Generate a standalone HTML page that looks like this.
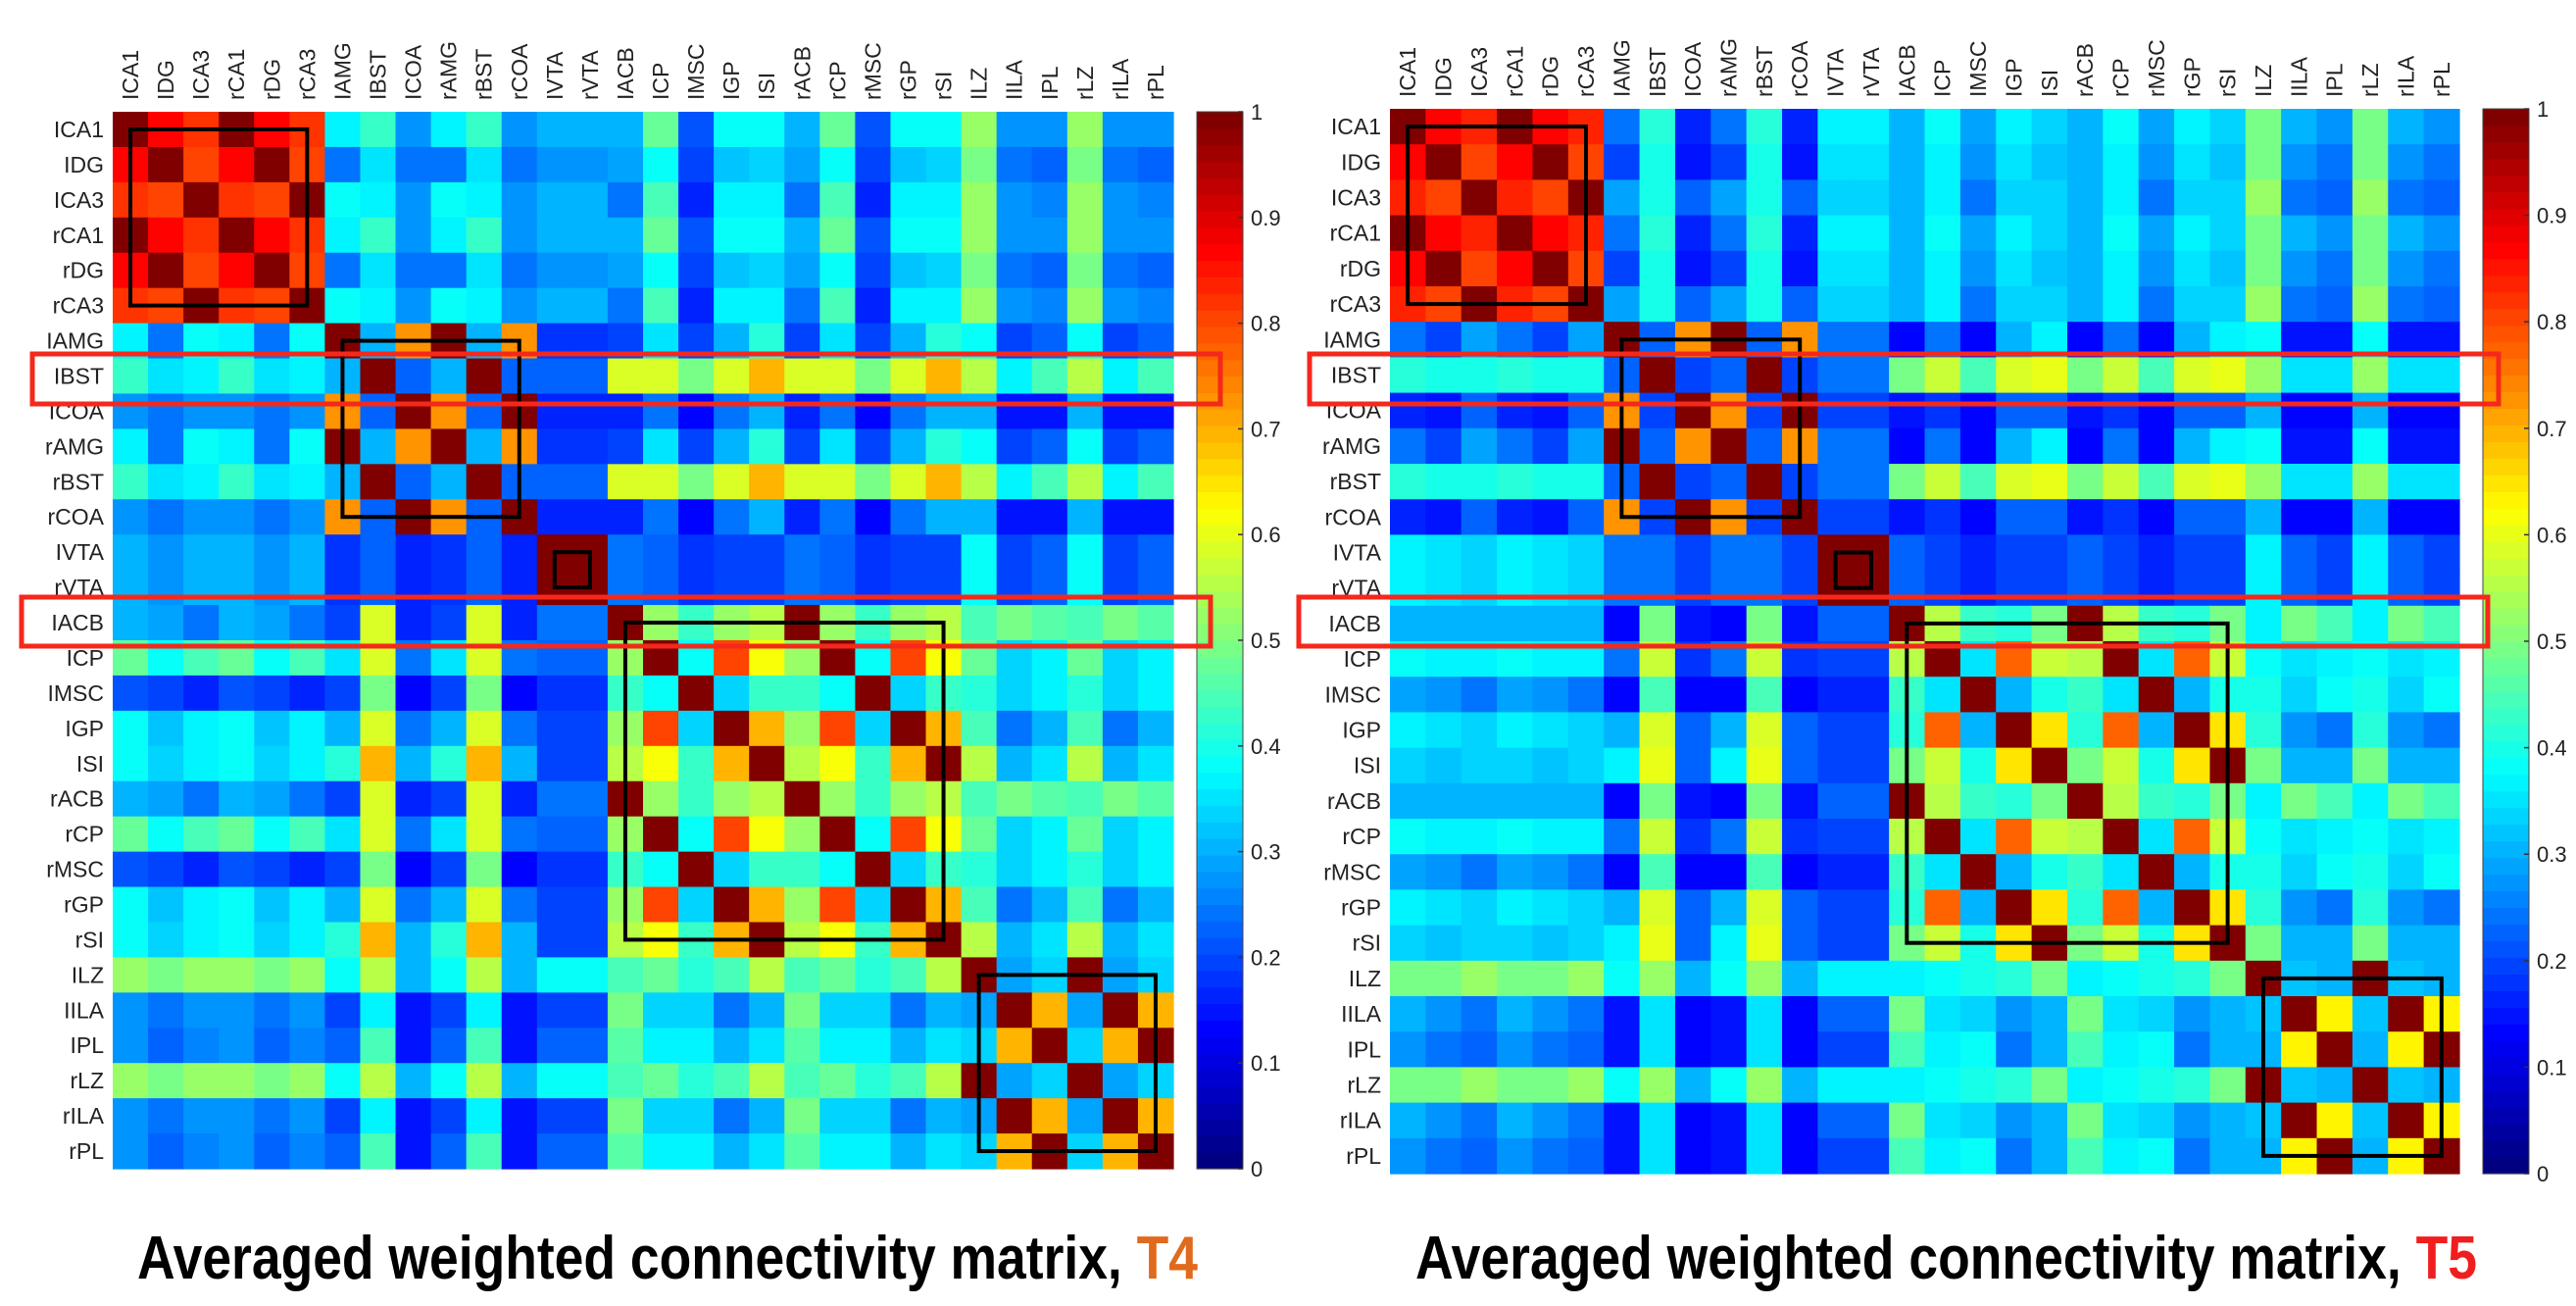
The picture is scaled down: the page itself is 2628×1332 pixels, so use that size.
<!DOCTYPE html>
<html><head><meta charset="utf-8">
<style>
html,body{margin:0;padding:0;background:#fff;}
svg{display:block;}
</style></head>
<body>
<svg id="fig" width="2628" height="1332" viewBox="0 0 2628 1332" xmlns="http://www.w3.org/2000/svg" font-family="Liberation Sans, Arial, sans-serif"></svg>
<script>
const labels = ["lCA1","lDG","lCA3","rCA1","rDG","rCA3","lAMG","lBST","lCOA","rAMG","rBST","rCOA","lVTA","rVTA","lACB","lCP","lMSC","lGP","lSI","rACB","rCP","rMSC","rGP","rSI","lLZ","lILA","lPL","rLZ","rILA","rPL"];
const shown = ["ICA1","IDG","ICA3","rCA1","rDG","rCA3","IAMG","IBST","ICOA","rAMG","rBST","rCOA","IVTA","rVTA","IACB","ICP","IMSC","IGP","ISI","rACB","rCP","rMSC","rGP","rSI","ILZ","IILA","IPL","rLZ","rILA","rPL"];
const regionIndex = [0,1,2,0,1,2,3,4,5,3,4,5,6,6,7,8,9,10,11,7,8,9,10,11,12,13,14,12,13,14];
const t4Lower = [
[1],
[.87,1],
[.82,.80,1],
[.36,.25,.38,1],
[.43,.35,.36,.30,1],
[.27,.24,.28,.72,.22,1],
[.31,.28,.31,.18,.22,.17,1],
[.31,.29,.25,.20,.59,.16,.24,1],
[.48,.38,.44,.35,.58,.24,.22,.53,1],
[.21,.19,.17,.19,.50,.13,.18,.43,.38,1],
[.38,.32,.36,.31,.59,.24,.20,.53,.80,.33,1],
[.38,.33,.36,.42,.70,.30,.20,.56,.62,.43,.70,1],
[.53,.50,.53,.38,.55,.30,.38,.45,.48,.42,.45,.56,1],
[.27,.25,.27,.20,.37,.15,.19,.50,.33,.33,.25,.30,.29,1],
[.27,.23,.26,.22,.44,.15,.22,.46,.37,.36,.30,.35,.34,.70,1]
];
const t5Lower = [
[1],
[.87,1],
[.84,.80,1],
[.25,.20,.29,1],
[.42,.40,.40,.23,1],
[.16,.15,.22,.72,.20,1],
[.36,.35,.34,.24,.25,.19,1],
[.31,.31,.30,.13,.50,.15,.22,1],
[.38,.37,.37,.24,.57,.18,.20,.55,1],
[.29,.28,.25,.13,.45,.14,.17,.43,.35,1],
[.37,.35,.34,.30,.58,.22,.20,.42,.77,.31,1],
[.34,.32,.33,.37,.60,.22,.20,.50,.57,.40,.65,1],
[.50,.50,.52,.38,.52,.30,.37,.36,.38,.40,.42,.50,1],
[.30,.28,.24,.15,.35,.13,.22,.50,.35,.34,.27,.30,.32,1],
[.27,.25,.23,.15,.35,.13,.20,.45,.36,.38,.25,.30,.30,.63,1]
];
const cbTicks = [0,0.1,0.2,0.3,0.4,0.5,0.6,0.7,0.8,0.9,1];
const cbTickLabels = ["0","0.1","0.2","0.3","0.4","0.5","0.6","0.7","0.8","0.9","1"];
const boxes = [[0,5],[6,11],[12,13],[14,23],[24,29]];
const highlightRows = [7,14];

const NS="http://www.w3.org/2000/svg";
const svg=document.getElementById('fig');
function mk(tag,attrs,parent){const e=document.createElementNS(NS,tag);for(const k in attrs)e.setAttribute(k,attrs[k]);(parent||svg).appendChild(e);return e;}
function clamp(v){return Math.max(0,Math.min(1,v));}
function jet(v){
  let idx=Math.floor(clamp(v)*63.999); const x=idx/63;
  const r=clamp(1.5-Math.abs(4*x-3)), g=clamp(1.5-Math.abs(4*x-2)), b=clamp(1.5-Math.abs(4*x-1));
  return `rgb(${Math.round(r*255)},${Math.round(g*255)},${Math.round(b*255)})`;
}
function val(lower,i,j){
  const a=regionIndex[i], b=regionIndex[j];
  if(a===b) return 1;
  return a>b?lower[a][b]:lower[b][a];
}

function drawChart(cfg){
  const g=mk('g',{});
  
  
  const n=labels.length, cw=cfg.w/n, ch=cfg.h/n;
  const xs=j=>cfg.x+j*cw, ys=i=>cfg.y+i*ch;
  const cells=mk('g',{},g);
  
  
  for(let i=0;i<n;i++)for(let j=0;j<n;j++){
    const r=mk('rect',{x:xs(j).toFixed(2),y:ys(i).toFixed(2),width:(cw+0.6).toFixed(2),height:(ch+0.6).toFixed(2),fill:jet(val(cfg.data,i,j))},cells);
    
    
  }
  // row labels
  for(let i=0;i<n;i++){
    const t=mk('text',{x:cfg.x-9,y:ys(i)+ch/2+8,'text-anchor':'end','font-size':23,fill:'#222'},g);
    t.textContent=shown[i];
    
    
  }
  for(let j=0;j<n;j++){
    const cx=xs(j)+cw/2+8, by=cfg.y-12;
    const t=mk('text',{x:cx,y:by,'font-size':23,fill:'#222',transform:`rotate(-90 ${cx} ${by})`},g);
    t.textContent=shown[j];
    
    
  }
  // black boxes
  boxes.forEach((b,k)=>{
    const r=mk('rect',{x:xs(b[0]+0.5),y:ys(b[0]+0.5),width:(b[1]-b[0])*cw,height:(b[1]-b[0])*ch,fill:'none',stroke:'#000','stroke-width':4},g);
    
    
  });
  // colorbar
  const cb=mk('g',{},g);
  
  
  const steps=64, sh=cfg.cbH/steps;
  for(let k=0;k<steps;k++){
    mk('rect',{x:cfg.cbX,y:(cfg.y+cfg.cbH-(k+1)*sh).toFixed(2),width:cfg.cbW,height:(sh+0.6).toFixed(2),fill:jet((k+0.5)/64)},cb);
  }
  mk('rect',{x:cfg.cbX,y:cfg.y,width:cfg.cbW,height:cfg.cbH,fill:'none',stroke:'#444','stroke-width':1},cb);
  cbTicks.forEach((v,k)=>{
    const y=cfg.y+cfg.cbH*(1-v);
    mk('line',{x1:cfg.cbX+cfg.cbW-5,x2:cfg.cbX+cfg.cbW,y1:y,y2:y,stroke:'#333','stroke-width':1.5},cb);
    const t=mk('text',{x:cfg.cbX+cfg.cbW+8,y:y+8,'font-size':22,fill:'#222'},cb);
    t.textContent=cbTickLabels[k];
    
    
  });
  // red highlight rects
  cfg.red.forEach((r,k)=>{
    const e=mk('rect',{x:r[0],y:r[1],width:r[2]-r[0],height:r[3]-r[1],fill:'none',stroke:'#f5281c','stroke-width':5},g);
    
    
  });
  // title
  const tt=mk('text',{x:cfg.tx,y:1304,'font-size':62,'font-weight':'bold',fill:'#000',textLength:cfg.tw,lengthAdjust:'spacingAndGlyphs'},g);
  
  
  tt.appendChild(document.createTextNode('Averaged weighted connectivity matrix, '));
  const sp=mk('tspan',{fill:cfg.tcol},tt);
  sp.textContent=cfg.tag;
}

drawChart({name:'heatmap-t4',x:115,y:114,w:1082,h:1078,data:t4Lower,cbX:1221,cbW:47,cbH:1078,
  red:[[33,361,1245,412],[22,609,1235,659]],tx:140,tw:1082,tcol:'#e06a1e',tag:'T4'});
drawChart({name:'heatmap-t5',x:1418,y:111,w:1091,h:1086,data:t5Lower,cbX:2533,cbW:47,cbH:1086,
  red:[[1336,361,2549,412],[1325,609,2538,659]],tx:1444,tw:1083,tcol:'#f01e1e',tag:'T5'});
</script>
</body></html>
